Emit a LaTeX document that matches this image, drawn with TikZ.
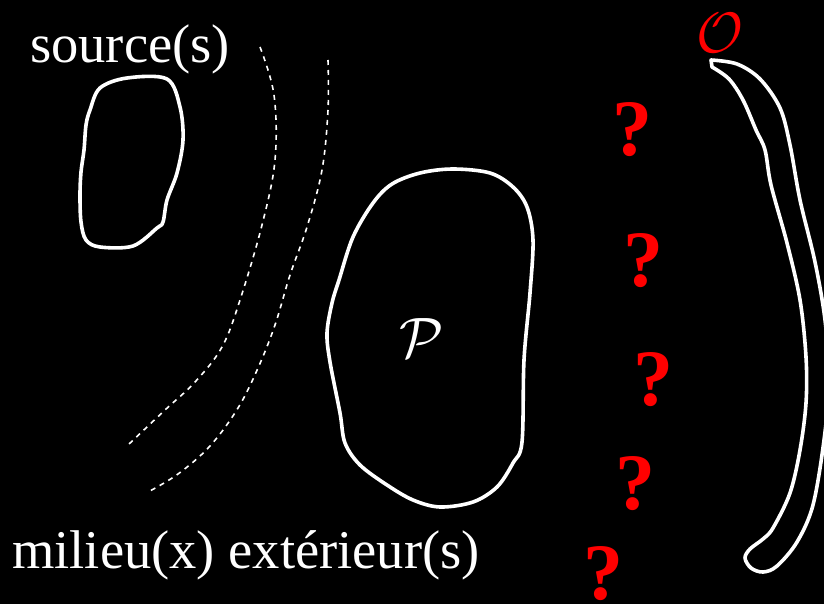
\documentclass[tikz,border=0pt]{standalone}
\usepackage{fontspec}
\setmainfont{Liberation Serif}
\tikzset{
  blob/.style={draw=white, line width=3.6pt, line join=round},
  wave/.style={draw=white, line width=1.6pt, dash pattern=on 5pt off 5pt},
  legende/.style={text=white, inner sep=0pt, anchor=base west, font=\fontsize{54.5}{60}\selectfont},
  lettre/.style={text=#1, inner sep=0pt, scale=5.7},
  ask/.style={text=red, inner sep=0pt, font=\fontsize{80}{82}\selectfont\bfseries},
}

\begin{document}
\begin{tikzpicture}[x=1pt, y=-1pt]
  \fill[black] (0,0) rectangle (824,604);
  \useasboundingbox (0,0) rectangle (824,604);
  \clip (0,0) rectangle (824,604);
  % source
  \draw[blob] plot[smooth cycle, tension=0.55] coordinates {(100,88) (127,78) (167,79) (180,107) (183,140)
    (177,173) (167,200) (163,222) (157,228) (133,246) (100,247) (86,240) (81,222) (80,195) (81,172)
    (84,150) (86,125) (90,110)};
  % fronts d'onde
  \draw[wave] plot[smooth, tension=0.6] coordinates {(260,47) (274,95) (275,160) (262,225) (240,300)
    (222,347) (195,382) (165,410) (128,445)};
  \draw[wave] plot[smooth, tension=0.6] coordinates {(328,60) (328,110) (322,170) (307,227) (290,275)
    (275,325) (258,368) (238,408) (210,446) (178,474) (148,492)};
  % objet
  \draw[blob] plot[smooth cycle, tension=0.55] coordinates {(339,280) (353,237) (373,203) (392,184)
    (420,173) (453,169) (490,173) (513,187) (527,207) (533,240) (530,293) (524,360) (522,442)
    (513,463) (497,487) (473,502) (440,507) (413,500) (387,485) (360,465) (345,443) (340,413)
    (330,362) (327,333) (332,303)};
  \node[lettre=white] (P) at (422,338) {$\mathcal{P}$};
  % observateur
  \draw[blob] plot[smooth, tension=0.55] coordinates {(711,60) (737,64) (760,79) (780,108) (790,145)
    (800,200) (815,262) (825,320) (829,380) (824,440) (813,505) (797,542) (777,566) (763,572)
    (751,568) (745,558) (750,549) (763,539) (773,528) (790,493) (800,450) (806,403) (806,357)
    (800,300) (787,243) (771,185) (765,150) (756,130) (743,100) (729,79) (712,67)} -- cycle;
  \node[lettre=red] (O) at (720,33) {$\mathcal{O}$};
  % inconnues
  \foreach \x/\y [count=\i] in {632/130, 643/261, 653/380, 635/484, 603/574}
    \node[ask] (q\i) at (\x,\y) {?};
  % textes
  \node[legende] (src) at (30,63) {source(s)};
  \node[legende] (milieu) at (12,568) {milieu(x) extérieur(s)};
\end{tikzpicture}
\end{document}
